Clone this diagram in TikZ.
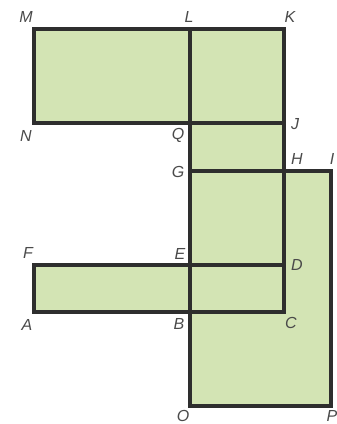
\documentclass[tikz,border=0pt]{standalone}
\usepackage{fontspec}
\setmainfont{Liberation Sans}
\usetikzlibrary{positioning}
\definecolor{netgreen}{HTML}{D3E4B4}
\definecolor{netline}{HTML}{2E2E2E}
\definecolor{lblgray}{HTML}{4A4A4A}
\tikzstyle{face}=[fill=netgreen]
\tikzstyle{edge}=[draw=netline,line width=3.2pt,line join=miter]

\begin{document}
\begin{tikzpicture}[x=1pt,y=-1pt]
    \tikzstyle{lbl}=[text=lblgray,font=\fontsize{16}{18}\selectfont\itshape,inner sep=0pt]
    \useasboundingbox (0,0) rectangle (337,424);

    % corners of the net
    \coordinate (M) at (34,29);
    \coordinate (L) at (190,29);
    \coordinate (K) at (284,29);
    \coordinate (N) at (34,123);
    \coordinate (Q) at (190,123);
    \coordinate (J) at (284,123);
    \coordinate (G) at (190,171);
    \coordinate (H) at (284,171);
    \coordinate (I) at (331,171);
    \coordinate (F) at (34,265);
    \coordinate (E) at (190,265);
    \coordinate (D) at (284,265);
    \coordinate (A) at (34,312);
    \coordinate (B) at (190,312);
    \coordinate (C) at (284,312);
    \coordinate (O) at (190,406);
    \coordinate (P) at (331,406);

    % faces
    \fill[face] (M) rectangle (J);
    \fill[face] (L) rectangle (C);
    \fill[face] (G) rectangle (P);
    \fill[face] (F) rectangle (C);

    % edges
    \draw[edge] (M) rectangle (J);
    \draw[edge] (L) rectangle (C);
    \draw[edge] (G) rectangle (P);
    \draw[edge] (F) rectangle (C);

    % vertex names
    \node[lbl] at (26,17) {M};
    \node[lbl] at (189,17) {L};
    \node[lbl] at (290,17) {K};
    \node[lbl] at (26,136) {N};
    \node[lbl] at (178,135) {Q};
    \node[lbl] at (295,124) {J};
    \node[lbl] at (178,172) {G};
    \node[lbl] at (297,159) {H};
    \node[lbl] at (332,159) {I};
    \node[lbl] at (28,253) {F};
    \node[lbl] at (180,254) {E};
    \node[lbl] at (297,265) {D};
    \node[lbl] at (27,325) {A};
    \node[lbl] at (179,324) {B};
    \node[lbl] at (291,323) {C};
    \node[lbl] at (183,416) {O};
    \node[lbl] at (332,416) {P};
\end{tikzpicture}
\end{document}
